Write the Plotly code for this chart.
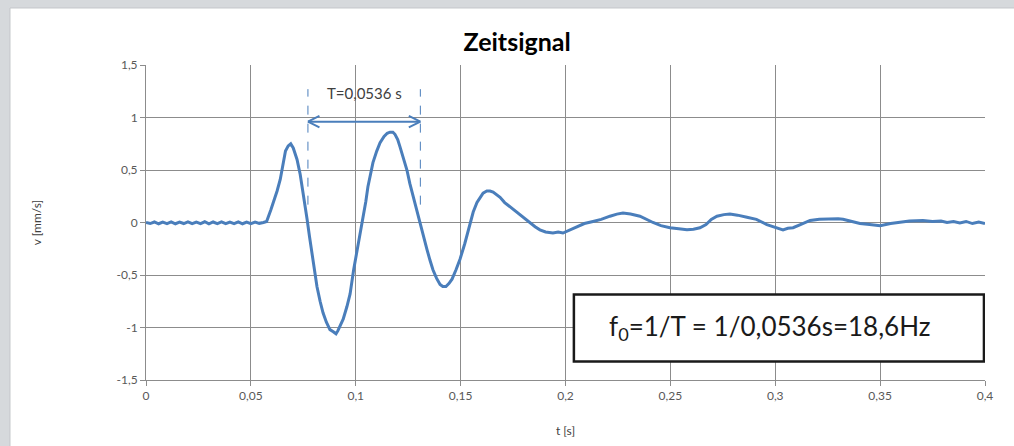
import plotly.graph_objects as go

# ---- data ----
t = [0.000, 0.002, 0.004, 0.006, 0.008, 0.010, 0.012, 0.014, 0.016, 0.018,
     0.020, 0.022, 0.024, 0.026, 0.028, 0.030, 0.032, 0.034, 0.036, 0.038,
     0.040, 0.042, 0.044, 0.046, 0.048, 0.050, 0.052, 0.054, 0.056,
     0.0575, 0.0595, 0.0610, 0.0625, 0.0640, 0.0655, 0.0665, 0.0678, 0.0690, 0.0702,
     0.0720, 0.0735, 0.0745, 0.0758, 0.0768, 0.0780, 0.0791, 0.0803, 0.0815, 0.0830,
     0.0844, 0.0860, 0.0877, 0.0893, 0.0906, 0.0915, 0.0925, 0.0940, 0.0958, 0.0973,
     0.0990, 0.1006, 0.1020, 0.1035, 0.1048, 0.1058, 0.1070, 0.1082, 0.1100, 0.1116,
     0.1135, 0.1150, 0.1163, 0.1177, 0.1187, 0.1200, 0.1211, 0.1228, 0.1244, 0.1258,
     0.1273, 0.1290, 0.1306, 0.1323, 0.1340, 0.1354, 0.1368, 0.1385, 0.1402, 0.1415,
     0.1430, 0.1445, 0.1459, 0.1478, 0.1497, 0.1520, 0.1545, 0.1560, 0.1578, 0.1595,
     0.1607, 0.1625, 0.1640, 0.1655, 0.1670, 0.1688, 0.1710, 0.1735, 0.1760, 0.1783,
     0.1805, 0.1831, 0.1855, 0.1878, 0.1905, 0.1940, 0.1965, 0.1988, 0.2010, 0.2036,
     0.2055, 0.2090, 0.2131, 0.2170, 0.2212, 0.2245, 0.2274, 0.2310, 0.2355, 0.2385,
     0.2417, 0.2455, 0.2498, 0.2540, 0.2579, 0.2610, 0.2641, 0.2670, 0.2695, 0.2722,
     0.2755, 0.2784, 0.2820, 0.2865, 0.2910, 0.2960, 0.2990, 0.3015, 0.3037, 0.3060,
     0.3085, 0.3120, 0.3166, 0.3210, 0.3261, 0.3300, 0.3323, 0.3360, 0.3404, 0.3450,
     0.3500, 0.3550, 0.3595, 0.3640, 0.3704, 0.3750, 0.3790, 0.3819, 0.3850, 0.3880,
     0.3910, 0.3940, 0.3970, 0.4000]
v = [0.00, -0.010, 0.005, -0.012, 0.004, -0.010, 0.006, -0.012, 0.003, -0.010,
     0.006, -0.011, 0.004, -0.010, 0.007, -0.012, 0.005, -0.010, 0.006, -0.011,
     0.004, -0.010, 0.006, -0.012, 0.004, -0.010, 0.005, -0.008, 0.000,
     0.01, 0.12, 0.20, 0.30, 0.41, 0.58, 0.68, 0.73, 0.75, 0.71,
     0.60, 0.46, 0.34, 0.18, 0.03, -0.14, -0.29, -0.45, -0.61, -0.75,
     -0.86, -0.95, -1.02, -1.04, -1.06, -1.03, -0.99, -0.92, -0.80, -0.68,
     -0.45, -0.28, -0.10, 0.06, 0.20, 0.34, 0.46, 0.57, 0.68, 0.76,
     0.82, 0.85, 0.86, 0.86, 0.84, 0.79, 0.72, 0.61, 0.50, 0.37,
     0.25, 0.12, 0.00, -0.13, -0.26, -0.36, -0.45, -0.53, -0.59, -0.61,
     -0.61, -0.58, -0.54, -0.45, -0.35, -0.20, -0.02, 0.10, 0.19, 0.25,
     0.28, 0.30, 0.30, 0.29, 0.27, 0.24, 0.19, 0.15, 0.11, 0.07,
     0.04, 0.00, -0.04, -0.07, -0.09, -0.10, -0.09, -0.10, -0.08, -0.06,
     -0.04, -0.01, 0.01, 0.03, 0.06, 0.08, 0.09, 0.08, 0.06, 0.03,
     0.00, -0.03, -0.05, -0.06, -0.07, -0.065, -0.05, -0.02, 0.03, 0.06,
     0.075, 0.08, 0.07, 0.05, 0.03, -0.02, -0.04, -0.06, -0.07, -0.055,
     -0.05, -0.02, 0.02, 0.03, 0.035, 0.035, 0.03, 0.01, -0.01, -0.02,
     -0.03, -0.01, 0.005, 0.015, 0.02, 0.01, 0.015, 0.00, 0.01, -0.005,
     0.01, -0.01, 0.005, -0.01]

x_ticks = [0, 0.05, 0.1, 0.15, 0.2, 0.25, 0.3, 0.35, 0.4]
x_labels = ["0", "0,05", "0,1", "0,15", "0,2", "0,25", "0,3", "0,35", "0,4"]
y_ticks = [-1.5, -1, -0.5, 0, 0.5, 1, 1.5]
y_labels = ["-1,5", "-1", "-0,5", "0", "0,5", "1", "1,5"]

T_start = 0.0772
T_period = 0.0536
T_end = T_start + T_period

BLUE = "#4a7ebb"
FONT = "Lato"

fig = go.Figure()
fig.add_trace(go.Scatter(x=t, y=v, mode="lines",
                         line=dict(color=BLUE, width=3), showlegend=False,
                         hoverinfo="skip"))

shapes = []
# page background: gray strips top/left, white sheet
shapes.append(dict(type="rect", xref="paper", yref="paper",
                   x0=-0.1621, x1=1.1, y0=-0.3, y1=1.181,
                   fillcolor="white", line=dict(color="#c4c7ca", width=1),
                   layer="below"))
# dashed vertical markers
for xv in (T_start, T_end):
    shapes.append(dict(type="line", xref="x", yref="y", x0=xv, x1=xv,
                       y0=0.17, y1=1.27,
                       line=dict(color=BLUE, width=1, dash="dash")))
# double arrow
ya = 0.96
shapes.append(dict(type="line", xref="x", yref="y", x0=T_start, x1=T_end,
                   y0=ya, y1=ya, line=dict(color=BLUE, width=2)))
hl, hh = 0.0055, 0.055
for tip, sgn in ((T_start, 1), (T_end, -1)):
    for dy in (hh, -hh):
        shapes.append(dict(type="line", xref="x", yref="y", x0=tip, x1=tip + sgn * hl,
                           y0=ya, y1=ya + dy, line=dict(color=BLUE, width=2)))
# formula box
shapes.append(dict(type="rect", xref="x", yref="y", x0=0.204, x1=0.3995,
                   y0=-1.324, y1=-0.686, fillcolor="white",
                   line=dict(color="#1a1a1a", width=2.5)))

annotations = [
    dict(x=(T_start + T_end) / 2, y=1.23, xref="x", yref="y",
         text="T=0,0536 s", showarrow=False,
         font=dict(family=FONT, size=15, color="#404040")),
    dict(x=0.2975, y=-1.0, xref="x", yref="y",
         text="f<sub>0</sub>=1/T = 1/0,0536s=18,6Hz", showarrow=False,
         font=dict(family=FONT, size=26, color="#1a1a1a")),
]

fig.update_layout(
    width=1014, height=446,
    margin=dict(l=146, r=29, t=65, b=66, autoexpand=False),
    paper_bgcolor="#d6d9dc", plot_bgcolor="white",
    shapes=shapes, annotations=annotations,
    title=dict(text="<b>Zeitsignal</b>", x=0.51, xanchor="center",
               y=0.905, yanchor="middle",
               font=dict(family=FONT, size=25, color="#000000")),
    xaxis=dict(range=[0, 0.4], tickvals=x_ticks, ticktext=x_labels,
               automargin=False,
               showgrid=True, gridcolor="#8c8c8c", gridwidth=1,
               showline=True, linecolor="#8c8c8c", linewidth=1,
               ticks="outside", ticklen=5, tickcolor="#8c8c8c",
               zeroline=False,
               tickfont=dict(family=FONT, size=12, color="#595959"),
               title=dict(text="t [s]", standoff=24,
                          font=dict(family=FONT, size=12, color="#404040"))),
    yaxis=dict(range=[-1.5, 1.5], tickvals=y_ticks, ticktext=y_labels,
               automargin=False,
               showgrid=True, gridcolor="#8c8c8c", gridwidth=1,
               showline=True, linecolor="#8c8c8c", linewidth=1,
               ticks="outside", ticklen=5, tickcolor="#8c8c8c",
               zeroline=False,
               tickfont=dict(family=FONT, size=12, color="#595959"),
               title=dict(text="v [mm/s]", standoff=72,
                          font=dict(family=FONT, size=12, color="#404040"))),
)

fig.write_html("out.html", config={"displayModeBar": False},
               post_script="document.body.style.margin='0px';document.body.style.overflow='hidden';")
